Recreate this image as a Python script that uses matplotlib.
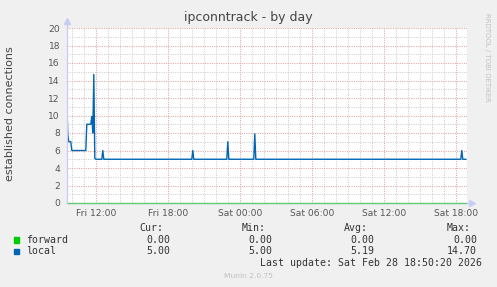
import matplotlib
matplotlib.use("Agg")
import matplotlib.pyplot as plt
import matplotlib.dates as mdates
import pandas as pd

# ---- data ----
local_times = [
    "2026-02-27 09:35", "2026-02-27 09:40", "2026-02-27 09:45", "2026-02-27 09:55",
    "2026-02-27 10:00", "2026-02-27 11:10", "2026-02-27 11:15", "2026-02-27 11:35",
    "2026-02-27 11:40", "2026-02-27 11:45", "2026-02-27 11:50", "2026-02-27 11:55",
    "2026-02-27 12:00", "2026-02-27 12:30", "2026-02-27 12:35", "2026-02-27 12:40",
    "2026-02-27 20:00", "2026-02-27 20:05", "2026-02-27 20:10",
    "2026-02-27 22:55", "2026-02-27 23:00", "2026-02-27 23:05",
    "2026-02-28 01:10", "2026-02-28 01:15", "2026-02-28 01:20",
    "2026-02-28 18:25", "2026-02-28 18:30", "2026-02-28 18:35", "2026-02-28 18:50",
]
local_values = [
    11.5, 7.8, 7.0, 7.0,
    6.0, 6.0, 9.0, 9.0,
    9.9, 8.0, 14.7, 5.1,
    5.0, 5.0, 6.0, 5.0,
    5.0, 6.0, 5.0,
    5.0, 7.0, 5.0,
    5.0, 7.9, 5.0,
    5.0, 6.0, 5.0, 5.0,
]
forward_times = ["2026-02-27 09:35", "2026-02-28 18:50"]
forward_values = [0.0, 0.0]

series_names = ["forward", "local"]
series_colors = ["#00CC00", "#0066B3"]
stat_headers = ["Cur:", "Min:", "Avg:", "Max:"]
forward_stats = ["0.00", "0.00", "0.00", "0.00"]
local_stats = ["5.00", "5.00", "5.19", "14.70"]

title = "ipconntrack - by day"
ylabel = "established connections"
last_update = "Last update: Sat Feb 28 18:50:20 2026"
footer = "Munin 2.0.75"
side_text = "RRDTOOL / TOBI OETIKER"

# ---- figure ----
W, H = 497, 287
fig = plt.figure(figsize=(W / 100, H / 100), dpi=100, facecolor="#F0F0F0")

def fx(px):
    return px / W

def fy(py):
    return 1 - py / H

ax_l, ax_r, ax_t, ax_b = 67, 467, 28, 203
ax = fig.add_axes([fx(ax_l), fy(ax_b), fx(ax_r - ax_l), (ax_b - ax_t) / H])
ax.set_facecolor("white")

lt = pd.to_datetime(local_times)
ft = pd.to_datetime(forward_times)

ax.plot(ft, forward_values, color=series_colors[0], lw=1.0, alpha=0.5, zorder=3, clip_on=False)
ax.plot(lt, local_values, color=series_colors[1], lw=1.0, zorder=4)

ax.set_xlim(pd.Timestamp("2026-02-27 09:36"), pd.Timestamp("2026-02-28 18:56"))
ax.set_ylim(0, 20)

ax.xaxis.set_major_locator(mdates.HourLocator(byhour=range(0, 24, 6)))
ax.xaxis.set_minor_locator(mdates.HourLocator())
ax.xaxis.set_major_formatter(mdates.DateFormatter("%a %H:%M"))
ax.yaxis.set_major_locator(plt.MultipleLocator(2))
ax.yaxis.set_minor_locator(plt.MultipleLocator(1))

ax.grid(which="minor", color="#D0D0D0", linestyle=(0, (1, 1.2)), linewidth=0.75, zorder=1)
ax.grid(which="major", color="#E3A6A6", linestyle=(0, (1, 1.2)), linewidth=0.75, zorder=2)
ax.set_axisbelow(True)

for s in ax.spines.values():
    s.set_visible(False)

ax.tick_params(which="both", length=0)
ax.tick_params(axis="y", labelsize=6.6, labelcolor="#555555", pad=5)
ax.tick_params(axis="x", labelsize=6.6, labelcolor="#555555", pad=4.5)

# axes lines with arrows
axis_col = "#C8CCF4"
ax.plot([0, 0], [0, 1.03], transform=ax.transAxes, color=axis_col, lw=0.9, clip_on=False, zorder=5)
ax.plot([0, 1.01], [0, 0], transform=ax.transAxes, color=axis_col, lw=0.9, clip_on=False, zorder=2)
ax.plot([0], [1.04], transform=ax.transAxes, marker="^", ms=4, color=axis_col, clip_on=False, zorder=5)
ax.plot([1.0125], [0], transform=ax.transAxes, marker=">", ms=4, color=axis_col, clip_on=False, zorder=5)

# texts
fig.text(fx(248), fy(18), title, ha="center", va="center", fontsize=9, color="#444444")
fig.text(fx(10), fy(114), ylabel, ha="center", va="center", rotation=90, fontsize=8, color="#444444")
fig.text(fx(487.5), fy(57), side_text, ha="center", va="center", rotation=270, fontsize=5, color="#C0C0C0")

mono = "DejaVu Sans Mono"
fs = 7.1
tc = "#333333"
header_right = [163.5, 266, 368, 470.5]
value_right = [170, 272.5, 374.5, 477]
for h, xr in zip(stat_headers, header_right):
    fig.text(fx(xr), fy(228), h, ha="right", va="center", family=mono, fontsize=fs, color=tc)

rows_y = [239.8, 251.3]
for name, col, stats, yy in zip(series_names, series_colors, [forward_stats, local_stats], rows_y):
    fig.patches.append(plt.Rectangle((fx(14), fy(yy + 2.7)), fx(5.4), 5.4 / H,
                                     transform=fig.transFigure, color=col, figure=fig))
    fig.text(fx(26.5), fy(yy), name, ha="left", va="center", family=mono, fontsize=fs, color=tc)
    for v, xr in zip(stats, value_right):
        fig.text(fx(xr), fy(yy), v, ha="right", va="center", family=mono, fontsize=fs, color=tc)

fig.text(fx(482.5), fy(263), last_update, ha="right", va="center", family=mono, fontsize=fs, color=tc)
fig.text(fx(248), fy(276.5), footer, ha="center", va="center", fontsize=5.4, color="#C0C0C0")

fig.savefig("out.png", dpi=100, facecolor=fig.get_facecolor())
